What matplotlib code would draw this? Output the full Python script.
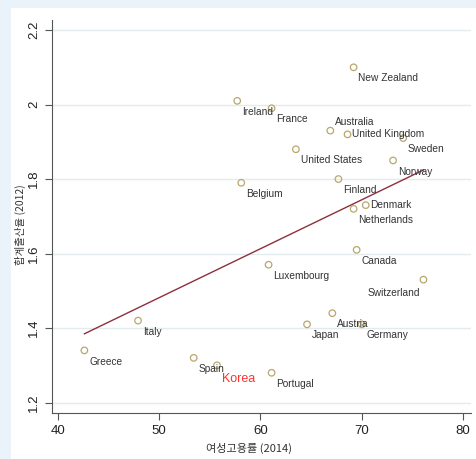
import matplotlib

matplotlib.use("Agg")
import matplotlib.pyplot as plt
from matplotlib.patches import Rectangle
import numpy as np

# data
countries = [
    "New Zealand", "Ireland", "France", "Australia", "United Kingdom", "Sweden",
    "United States", "Norway", "Finland", "Belgium", "Denmark", "Netherlands",
    "Canada", "Luxembourg", "Switzerland", "Austria", "Japan", "Germany",
    "Italy", "Greece", "Spain", "Korea", "Portugal",
]
emp_rate = [
    69.2, 57.7, 61.1, 66.9, 68.6, 74.1,
    63.5, 73.1, 67.7, 58.1, 70.4, 69.2,
    69.5, 60.8, 76.1, 67.1, 64.6, 70.0,
    47.9, 42.6, 53.4, 55.7, 61.1,
]
fertility = [
    2.10, 2.01, 1.99, 1.93, 1.92, 1.91,
    1.88, 1.85, 1.80, 1.79, 1.73, 1.72,
    1.61, 1.57, 1.53, 1.44, 1.41, 1.41,
    1.42, 1.34, 1.32, 1.30, 1.28,
]
# label placement (Stata clock positions)
label_pos = {
    "Australia": 2, "United Kingdom": 3, "Denmark": 3, "Switzerland": 7,
}
x_ticks = [40, 50, 60, 70, 80]
y_ticks = [1.2, 1.4, 1.6, 1.8, 2.0, 2.2]

narrow = ["Liberation Sans", "DejaVu Sans"]
kr = ["Noto Sans CJK KR", "DejaVu Sans"]

fig = plt.figure(figsize=(4.76, 4.59), dpi=100)
fig.patch.set_facecolor("#EAF2FA")
fig.patches.append(Rectangle((11 / 476, 0), 1, 1 - 8 / 459, transform=fig.transFigure,
                             facecolor="white", edgecolor="none", zorder=-10))
ax = fig.add_axes([52 / 476, 46 / 459, 419 / 476, 393 / 459])
ax.set_facecolor("white")

ax.scatter(emp_rate, fertility, s=22, facecolors="none", edgecolors="#B8A76C",
           linewidths=0.9, zorder=3)

coef = np.polyfit(emp_rate, fertility, 1)
xs = np.array([min(emp_rate), max(emp_rate)])
ax.plot(xs, np.polyval(coef, xs), color="#8E2F3C", lw=1.0, zorder=2)

offsets = {2: (3, 6, "left", "center"), 3: (3.5, 0, "left", "center"),
           4: (3.5, -8, "left", "center"), 7: (-2.5, -9.5, "right", "center")}
for name, xv, yv in zip(countries, emp_rate, fertility):
    dx, dy, ha, va = offsets[label_pos.get(name, 4)]
    if name == "Korea":
        ax.annotate(name, (xv, yv), xytext=(dx, dy - 2), textcoords="offset points",
                    ha=ha, va=va, color="#FF3030", fontsize=9, family=narrow)
    else:
        ax.annotate(name, (xv, yv), xytext=(dx, dy), textcoords="offset points",
                    ha=ha, va=va, color="#333333", fontsize=7.3, family=narrow)

ax.set_xlim(39.4, 80.8)
ax.set_ylim(1.172, 2.227)
ax.set_xticks(x_ticks)
ax.set_yticks(y_ticks)
ax.set_yticklabels([f"{v:g}" for v in y_ticks], rotation=90, va="center")
ax.grid(axis="y", color="#E2ECEE", lw=1.0)
ax.set_axisbelow(True)
for s in ["top", "right"]:
    ax.spines[s].set_visible(False)
for s in ["left", "bottom"]:
    ax.spines[s].set_color("#555555")
ax.tick_params(direction="out", length=5, color="#555555", labelsize=9.5,
               labelcolor="#222222")
for lab in ax.get_xticklabels() + ax.get_yticklabels():
    lab.set_family(narrow)

ax.set_xlabel("여성고용률 (2014)", family=kr, fontsize=8, color="#333333")
ax.set_ylabel("합계출산율 (2012)", family=kr, fontsize=7.5, color="#333333")
ax.xaxis.set_label_coords(0.47, -0.075)
ax.yaxis.set_label_coords(-0.062, 0.48)

fig.savefig("out.png", dpi=100, facecolor=fig.get_facecolor())
plt.close(fig)
